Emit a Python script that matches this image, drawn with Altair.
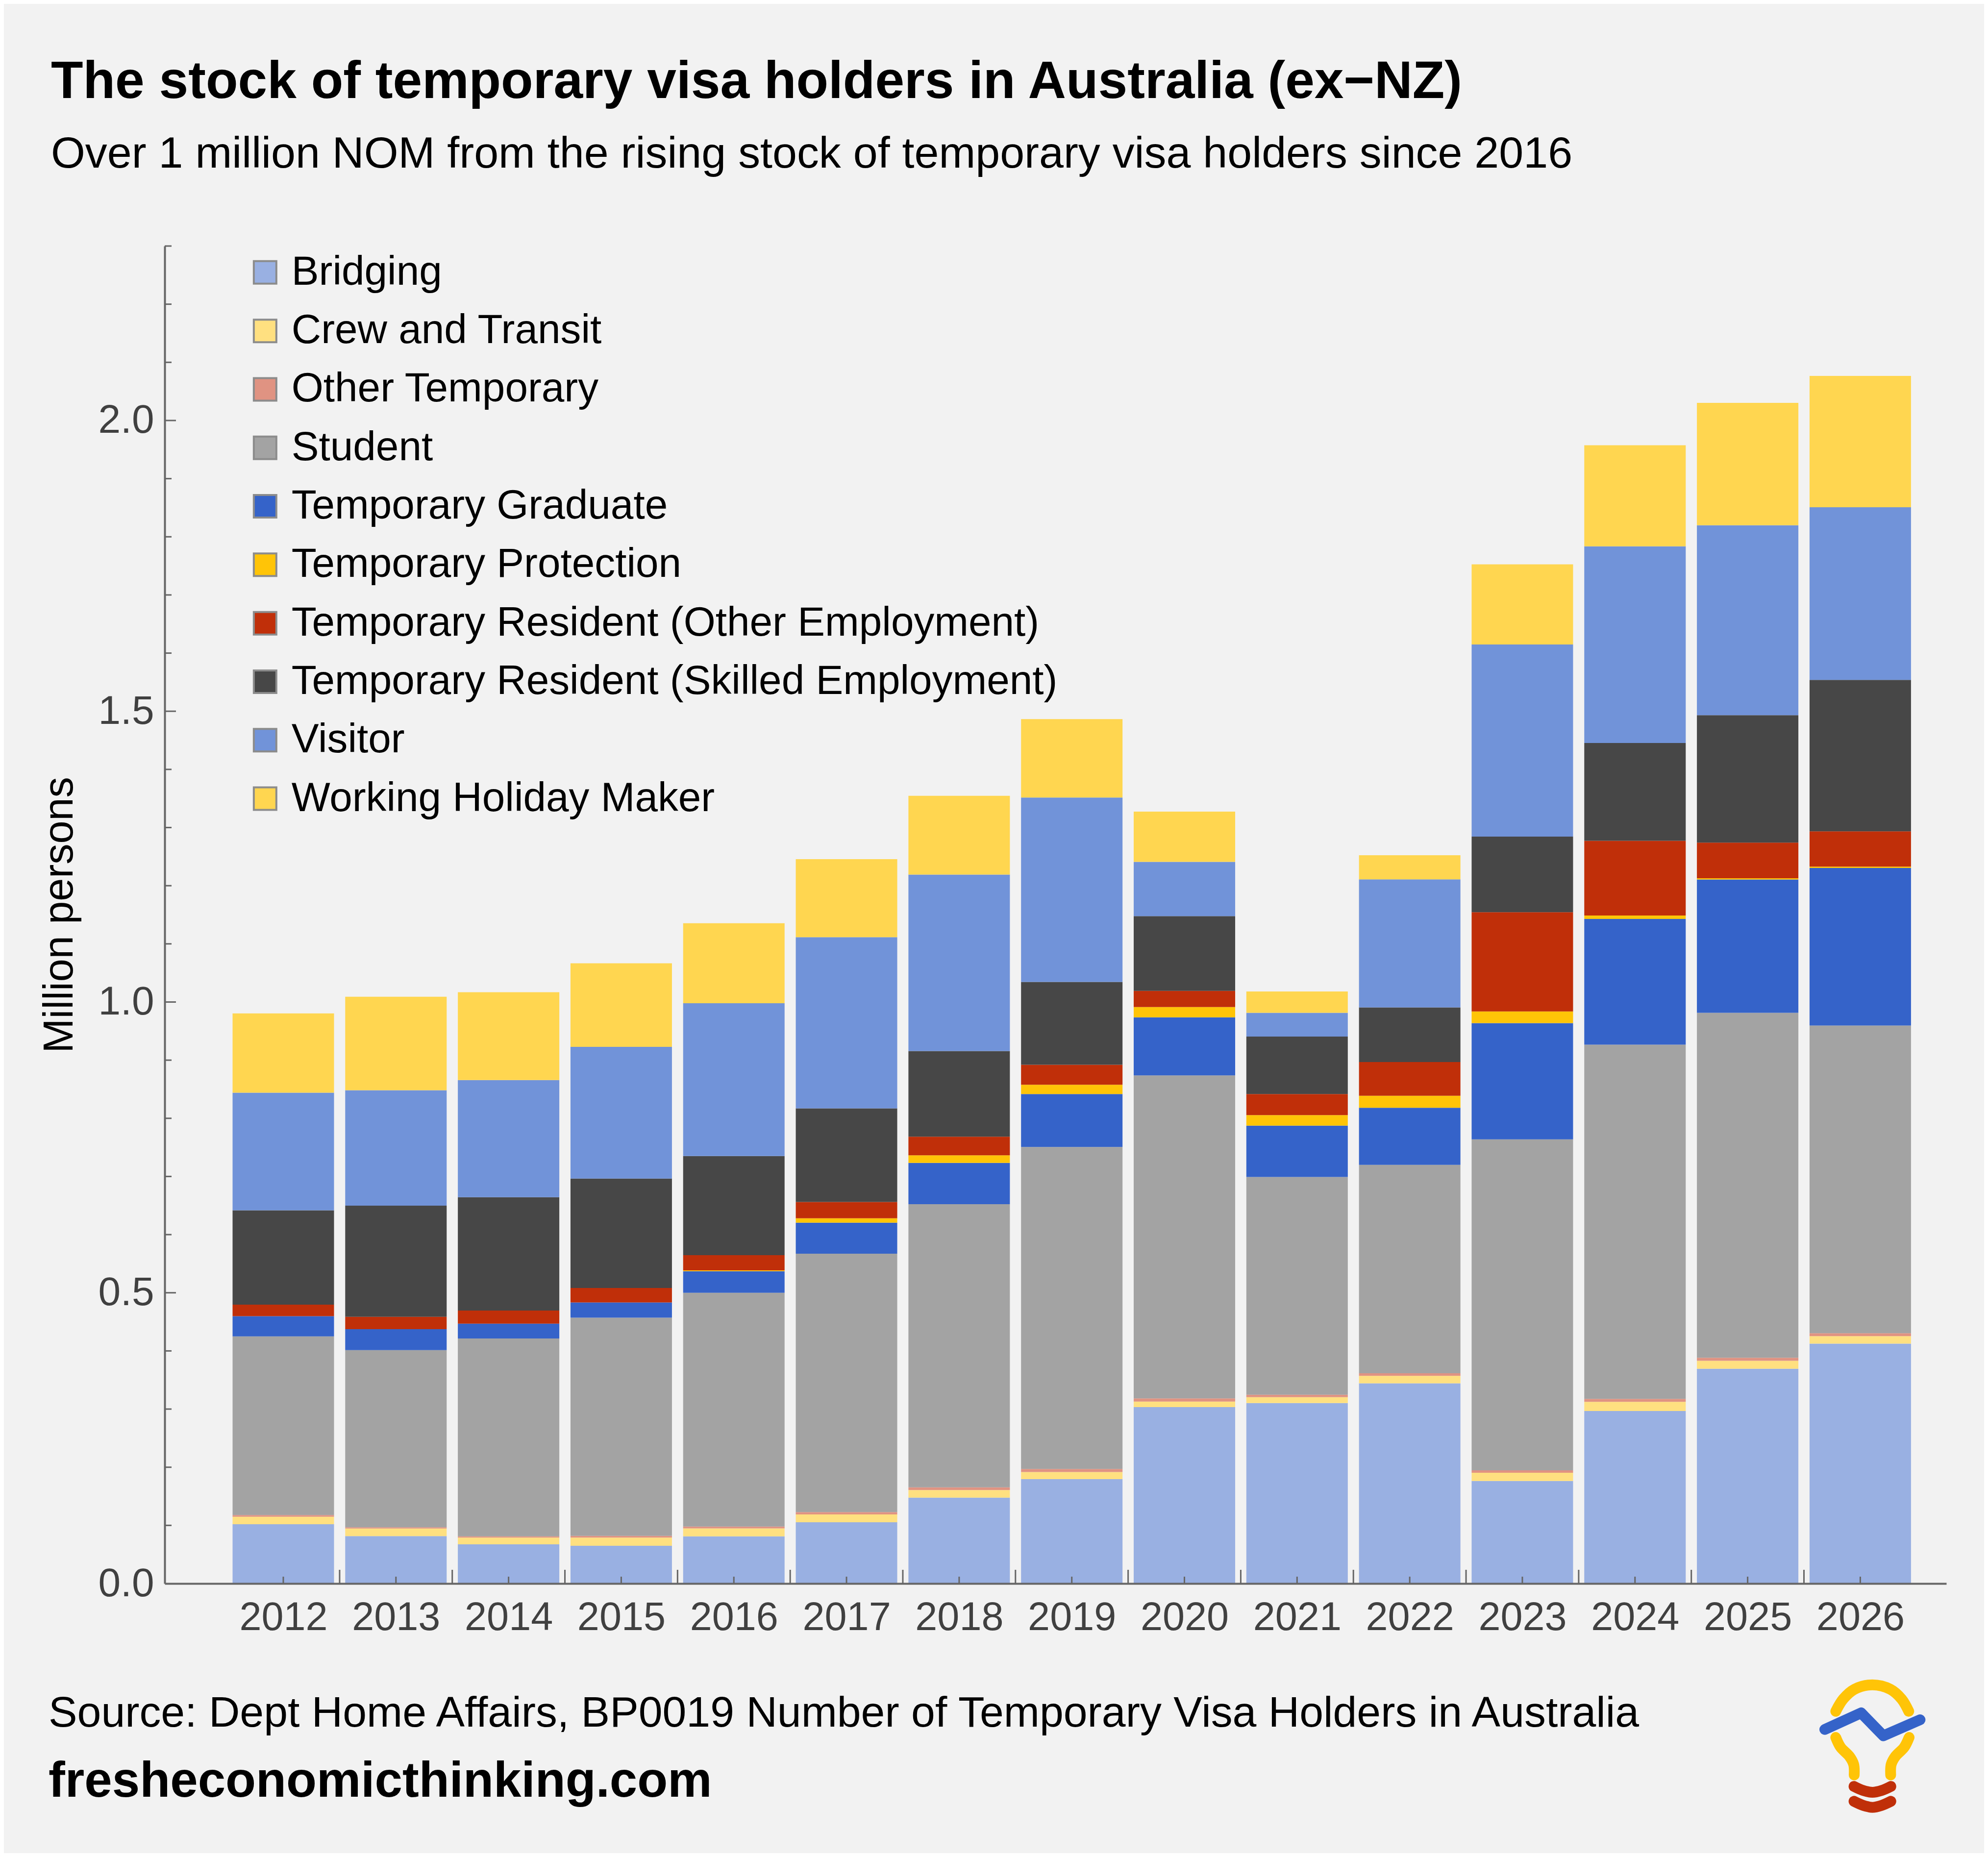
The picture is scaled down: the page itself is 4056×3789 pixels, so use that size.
import altair as alt
import pandas as pd

years = list(range(2012, 2027))
series_names = ["Bridging", "Crew and Transit", "Other Temporary", "Student", "Temporary Graduate",
                "Temporary Protection", "Temporary Resident (Other Employment)",
                "Temporary Resident (Skilled Employment)", "Visitor", "Working Holiday Maker"]
series_colors = ["#99b0e2", "#ffe080", "#e09382", "#a3a3a3", "#3563c9",
                 "#ffc407", "#c02f09", "#474747", "#7193d9", "#ffd650"]

bridging = [.1019, .0816, .0675, .0649, .0812, .1054, .1476, .1796, .3035, .3103, .3443, .1763, .2966, .3693, .4125]
crew = [.0129, .0129, .0116, .0142, .0137, .0135, .0132, .0121, .0093, .0101, .0129, .0142, .0159, .0138, .0129]
other = [.0030, .0022, .0021, .0029, .0031, .0039, .0047, .0053, .0056, .0042, .0043, .0042, .0051, .0052, .0051]
student = [.3072, .3046, .3403, .3752, .4020, .4443, .4869, .5537, .5553, .3746, .3584, .5691, .6091, .5932, .5290]
graduate = [.0348, .0361, .0254, .0262, .0371, .0534, .0710, .0910, .1000, .0882, .0982, .2000, .2162, .2291, .2710]
protection = [0, 0, 0, 0, .0015, .0076, .0130, .0161, .0177, .0182, .0207, .0199, .0059, .0022, .0022]
res_other = [.0198, .0212, .0226, .0249, .0261, .0280, .0320, .0343, .0278, .0361, .0580, .1707, .1284, .0612, .0607]
res_skilled = [.1621, .1913, .1949, .1881, .1704, .1609, .1473, .1425, .1284, .0989, .0940, .1301, .1683, .2193, .2606]
visitor = [.2023, .1984, .2014, .2265, .2628, .2945, .3034, .3170, .0934, .0408, .2200, .3302, .3381, .3265, .2968]
whm = [.1364, .1607, .1510, .1437, .1376, .1342, .1355, .1349, .0864, .0367, .0415, .1380, .1737, .2104, .2259]
all_series = [bridging, crew, other, student, graduate, protection, res_other, res_skilled, visitor, whm]

TITLE = "The stock of temporary visa holders in Australia (ex\u2212NZ)"
SUBTITLE = "Over 1 million NOM from the rising stock of temporary visa holders since 2016"
SOURCE = "Source: Dept Home Affairs, BP0019 Number of Temporary Visa Holders in Australia"
SITE = "fresheconomicthinking.com"

FONT = "Liberation Sans"
AXIS_GREY = "#666666"
LABEL_GREY = "#404040"
X_DOMAIN = [2010.947, 2026.764]
Y_DOMAIN = [0, 2.3]

rows = []
for idx, (name, vals) in enumerate(zip(series_names, all_series)):
    for yr, v in zip(years, vals):
        rows.append({"year": yr, "series": name, "value": v, "idx": idx})
df = pd.DataFrame(rows)

x_scale = alt.Scale(domain=X_DOMAIN, nice=False, zero=False, padding=0)
y_scale = alt.Scale(domain=Y_DOMAIN, nice=False)

bars = alt.Chart(df).mark_bar(size=207, stroke=None).encode(
    x=alt.X("year:Q", scale=x_scale, title=None,
            axis=alt.Axis(values=years, format="d", ticks=False, grid=False, labelFont=FONT,
                          labelFontSize=81, labelColor=LABEL_GREY, labelPadding=30, labelFlush=False,
                          labelLimit=500, labelOverlap=False, domainColor=AXIS_GREY, domainWidth=4, zindex=1)),
    y=alt.Y("value:Q", stack="zero", scale=y_scale, title="Million persons",
            axis=alt.Axis(values=[0, 0.5, 1.0, 1.5, 2.0], format=".1f", ticks=False, grid=False,
                          labelFont=FONT, labelFontSize=82, labelColor=LABEL_GREY, labelPadding=22,
                          labelLimit=500, domainColor=AXIS_GREY, domainWidth=4, zindex=1, titleFont=FONT,
                          titleFontSize=84.5, titleFontWeight="normal", titleColor="black", titlePadding=35)),
    color=alt.Color("series:N", scale=alt.Scale(domain=series_names, range=series_colors),
                    legend=alt.Legend(orient="none", legendX=163, legendY=12, title=None, symbolType="square",
                                      symbolSize=2116, symbolStrokeColor="#8c8c8c", symbolStrokeWidth=4,
                                      labelFont=FONT, labelFontSize=83.7, labelColor="black", labelLimit=3000,
                                      labelOffset=12, rowPadding=34.3)),
    order=alt.Order("idx:Q", sort="ascending"),
)

# inward ticks along the x axis
x_ticks_long = pd.DataFrame({"x": [y + 0.5 for y in years[:-1]], "y0": 0.0, "y1": 0.0236})
x_ticks_short = pd.DataFrame({"x": years, "y0": 0.0, "y1": 0.0118})
x_ticks = pd.concat([x_ticks_long, x_ticks_short])
x_tick_layer = alt.Chart(x_ticks).mark_rule(color=AXIS_GREY, strokeWidth=3).encode(
    x=alt.X("x:Q", scale=x_scale), y=alt.Y("y0:Q", scale=y_scale), y2="y1:Q")

# inward ticks along the y axis
tick_vals = [i / 10 for i in range(1, 24)]
y_ticks = pd.DataFrame({
    "y": tick_vals,
    "x0": X_DOMAIN[0],
    "x1": [X_DOMAIN[0] + (0.1 if i % 5 == 0 else 0.061) for i in range(1, 24)],
})
y_tick_layer = alt.Chart(y_ticks).mark_rule(color=AXIS_GREY, strokeWidth=3).encode(
    y=alt.Y("y:Q", scale=y_scale), x=alt.X("x0:Q", scale=x_scale), x2="x1:Q")

# footer text
foot1 = alt.Chart(pd.DataFrame({"t": [SOURCE]})).mark_text(
    align="left", baseline="alphabetic", font=FONT, fontSize=87.8, color="black"
).encode(text="t:N", x=alt.value(-237), y=alt.value(3021))
foot2 = alt.Chart(pd.DataFrame({"t": [SITE]})).mark_text(
    align="left", baseline="alphabetic", font=FONT, fontSize=101.5, fontWeight="bold", color="black"
).encode(text="t:N", x=alt.value(-237), y=alt.value(3164))

# logo strokes, in the logo's own coordinate frame
logo_x = alt.Scale(domain=[0, 1568], range=[3164, 3720], nice=False, zero=False)
logo_y = alt.Scale(domain=[0, 1467], range=[2798, 3287], nice=False, zero=False)

yellow_strokes = [
    [(692, 575), (735, 500), (800, 440), (903, 413), (1006, 440), (1071, 500), (1112, 575)],
    [(692, 735), (720, 795), (770, 850), (795, 900), (798, 965)],
    [(1114, 735), (1086, 795), (1036, 850), (1011, 900), (1008, 965)],
]
blue_strokes = [[(629, 686), (838, 585), (966, 725), (1177, 627)]]
red_strokes = [
    [(797, 1035), (850, 1060), (903, 1071), (956, 1060), (1009, 1035)],
    [(797, 1126), (850, 1151), (903, 1163), (956, 1151), (1009, 1126)],
]

def logo_layer(strokes, color, interp):
    recs = []
    for g, s in enumerate(strokes):
        for i, (a, b) in enumerate(s):
            recs.append({"a": a, "b": b, "g": g, "i": i})
    return alt.Chart(pd.DataFrame(recs)).mark_line(
        color=color, strokeWidth=22, strokeCap="round", strokeJoin="round", interpolate=interp
    ).encode(
        x=alt.X("a:Q", scale=logo_x, axis=None),
        y=alt.Y("b:Q", scale=logo_y, axis=None),
        detail="g:N",
        order="i:Q",
    )

logo = alt.layer(
    logo_layer(yellow_strokes, "#ffc407", "catmull-rom"),
    logo_layer(red_strokes, "#c02f09", "catmull-rom"),
    logo_layer(blue_strokes, "#3563c9", "linear"),
)

main = alt.layer(bars, x_tick_layer, y_tick_layer)

chart = alt.layer(main, logo, foot1, foot2).resolve_scale(x="independent", y="independent").properties(
    width=3635,
    height=2729,
    background="#f2f2f2",
    autosize=alt.AutoSizeParams(type="none"),
    padding={"left": 328, "top": 494, "right": 77, "bottom": 550},
    title=alt.TitleParams(
        text=TITLE, subtitle=SUBTITLE, anchor="start", frame="group", align="left", dx=-232, offset=140,
        font=FONT, fontSize=107.3, fontWeight="bold", color="black",
        subtitleFont=FONT, subtitleFontSize=89.8, subtitleFontWeight="normal", subtitleColor="black",
        subtitlePadding=48,
    ),
).configure_view(stroke=None)

chart.save("out.html", embed_options={"renderer": "svg", "actions": False})
